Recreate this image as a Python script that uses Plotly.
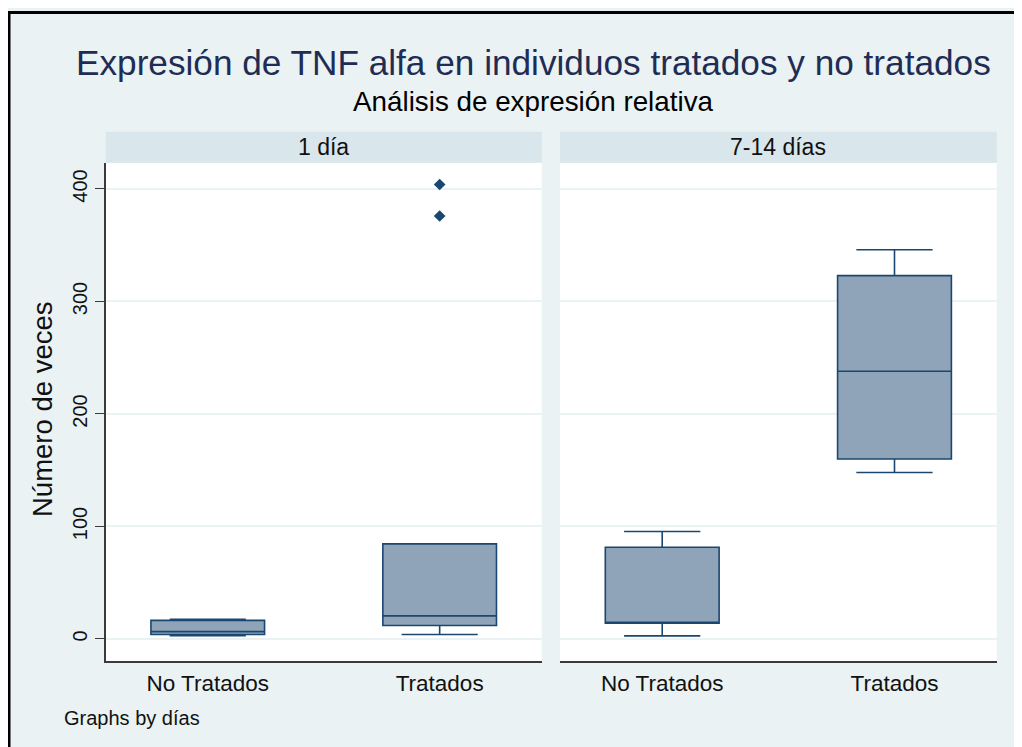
import plotly.graph_objects as go

# ---------------- data ----------------
categories = ["No Tratados", "Tratados"]
panel_titles = ["1 día", "7-14 días"]

# Panel "1 día"
d1_lower = [3.0, 4.0]
d1_q1 = [4.0, 12.0]
d1_median = [6.5, 20.5]
d1_q3 = [16.5, 84.5]
d1_upper = [17.5, 84.5]
d1_out_x = ["Tratados", "Tratados"]
d1_out_y = [404, 376]

# Panel "7-14 días"
d2_lower = [2.7, 148.0]
d2_q1 = [14.0, 160.0]
d2_median = [14.5, 238.0]
d2_q3 = [81.5, 323.0]
d2_upper = [95.5, 346.0]

y_ticks = [0, 100, 200, 300, 400]

title = "Expresión de TNF alfa en individuos tratados y no tratados"
subtitle = "Análisis de expresión relativa"
y_title = "Número de veces"
note = "Graphs by días"

# ---------------- style ----------------
OFF = 8                      # page body margin in the browser
W, H = 1022 - OFF, 747 - OFF
BG = "#eaf2f3"
STRIP = "#d9e6eb"
LINE = "#1a476f"
FILL = "#8fa4b8"
AX = "#3a3a3a"
FONT = "Liberation Sans, Arial, sans-serif"


def px(x):
    return (x - OFF) / W


def py(y):
    return 1 - (y - OFF) / H


plot_top, plot_bot = 163, 661
p1 = (105.7, 541.7)
p2 = (560.0, 996.7)

fig = go.Figure()

box_style = dict(
    width=0.49,
    whiskerwidth=0.67,
    fillcolor=FILL,
    line=dict(color=LINE, width=1.6),
    boxpoints=False,
    showlegend=False,
    hoverinfo="skip",
)

fig.add_trace(go.Box(x=categories, q1=d1_q1, median=d1_median, q3=d1_q3,
                     lowerfence=d1_lower, upperfence=d1_upper,
                     xaxis="x", yaxis="y", **box_style))
fig.add_trace(go.Scatter(x=d1_out_x, y=d1_out_y, mode="markers",
                         marker=dict(symbol="diamond", size=9, color=LINE),
                         xaxis="x", yaxis="y", showlegend=False))
fig.add_trace(go.Box(x=categories, q1=d2_q1, median=d2_median, q3=d2_q3,
                     lowerfence=d2_lower, upperfence=d2_upper,
                     xaxis="x2", yaxis="y2", **box_style))

y_range = [-19.6, 423.1]
ydom = [py(plot_bot), py(plot_top)]

common_x = dict(
    type="category",
    range=[-0.44, 1.44],
    showgrid=False,
    zeroline=False,
    showline=True,
    linecolor=AX,
    linewidth=1.6,
    ticks="outside",
    ticklen=1,
    tickcolor="rgba(0,0,0,0)",
    tickfont=dict(family=FONT, size=22.5, color="#111111"),
)

fig.update_layout(
    width=W,
    height=H,
    margin=dict(l=0, r=0, t=0, b=0),
    paper_bgcolor=BG,
    plot_bgcolor="white",
    boxmode="overlay",
    font=dict(family=FONT, color="#111111"),
    xaxis=dict(domain=[px(p1[0]), px(p1[1])], anchor="y", **common_x),
    xaxis2=dict(domain=[px(p2[0]), px(p2[1])], anchor="y2", **common_x),
    yaxis=dict(
        domain=ydom, range=y_range, anchor="x",
        tickvals=y_ticks, tickangle=-90,
        tickfont=dict(family=FONT, size=20, color="#111111"),
        ticks="outside", ticklen=9, tickcolor=AX, tickwidth=1.2,
        showline=True, linecolor=AX, linewidth=1.6,
        showgrid=True, gridcolor=BG, gridwidth=1.5,
        zeroline=False,
    ),
    yaxis2=dict(
        domain=ydom, range=y_range, anchor="x2", matches="y",
        tickvals=y_ticks, showticklabels=False, ticks="",
        showline=False,
        showgrid=True, gridcolor=BG, gridwidth=1.5,
        zeroline=False,
    ),
)

shapes = []
annotations = []
for (x0, x1), label in zip([p1, p2], panel_titles):
    shapes.append(dict(type="rect", xref="paper", yref="paper",
                       x0=px(x0), x1=px(x1), y0=py(162.7), y1=py(131.7),
                       fillcolor=STRIP, line=dict(width=0), layer="below"))
    annotations.append(dict(text=label, xref="paper", yref="paper",
                            x=px((x0 + x1) / 2), y=py(147), xanchor="center",
                            yanchor="middle", showarrow=False,
                            font=dict(family=FONT, size=23, color="#111111")))

# outer frame (top and left)
shapes.append(dict(type="line", xref="paper", yref="paper",
                   x0=0, x1=1, y0=py(12.5), y1=py(12.5),
                   line=dict(color="black", width=3)))
shapes.append(dict(type="line", xref="paper", yref="paper",
                   x0=px(9), x1=px(9), y0=py(11), y1=0,
                   line=dict(color="black", width=3)))

annotations += [
    dict(text=title, xref="paper", yref="paper", x=px(533), y=py(62),
         xanchor="center", yanchor="middle", showarrow=False,
         font=dict(family=FONT, size=35.2, color="#1f2d55")),
    dict(text=subtitle, xref="paper", yref="paper", x=px(533), y=py(101),
         xanchor="center", yanchor="middle", showarrow=False,
         font=dict(family=FONT, size=27.8, color="#000000")),
    dict(text=y_title, xref="paper", yref="paper", x=px(42), y=py(409),
         xanchor="center", yanchor="middle", showarrow=False, textangle=-90,
         font=dict(family=FONT, size=27.5, color="#111111")),
    dict(text=note, xref="paper", yref="paper", x=px(62), y=py(718),
         xanchor="left", yanchor="middle", showarrow=False,
         font=dict(family=FONT, size=20, color="#111111")),
]

fig.update_layout(shapes=shapes, annotations=annotations)

fig.write_html("out.html")
